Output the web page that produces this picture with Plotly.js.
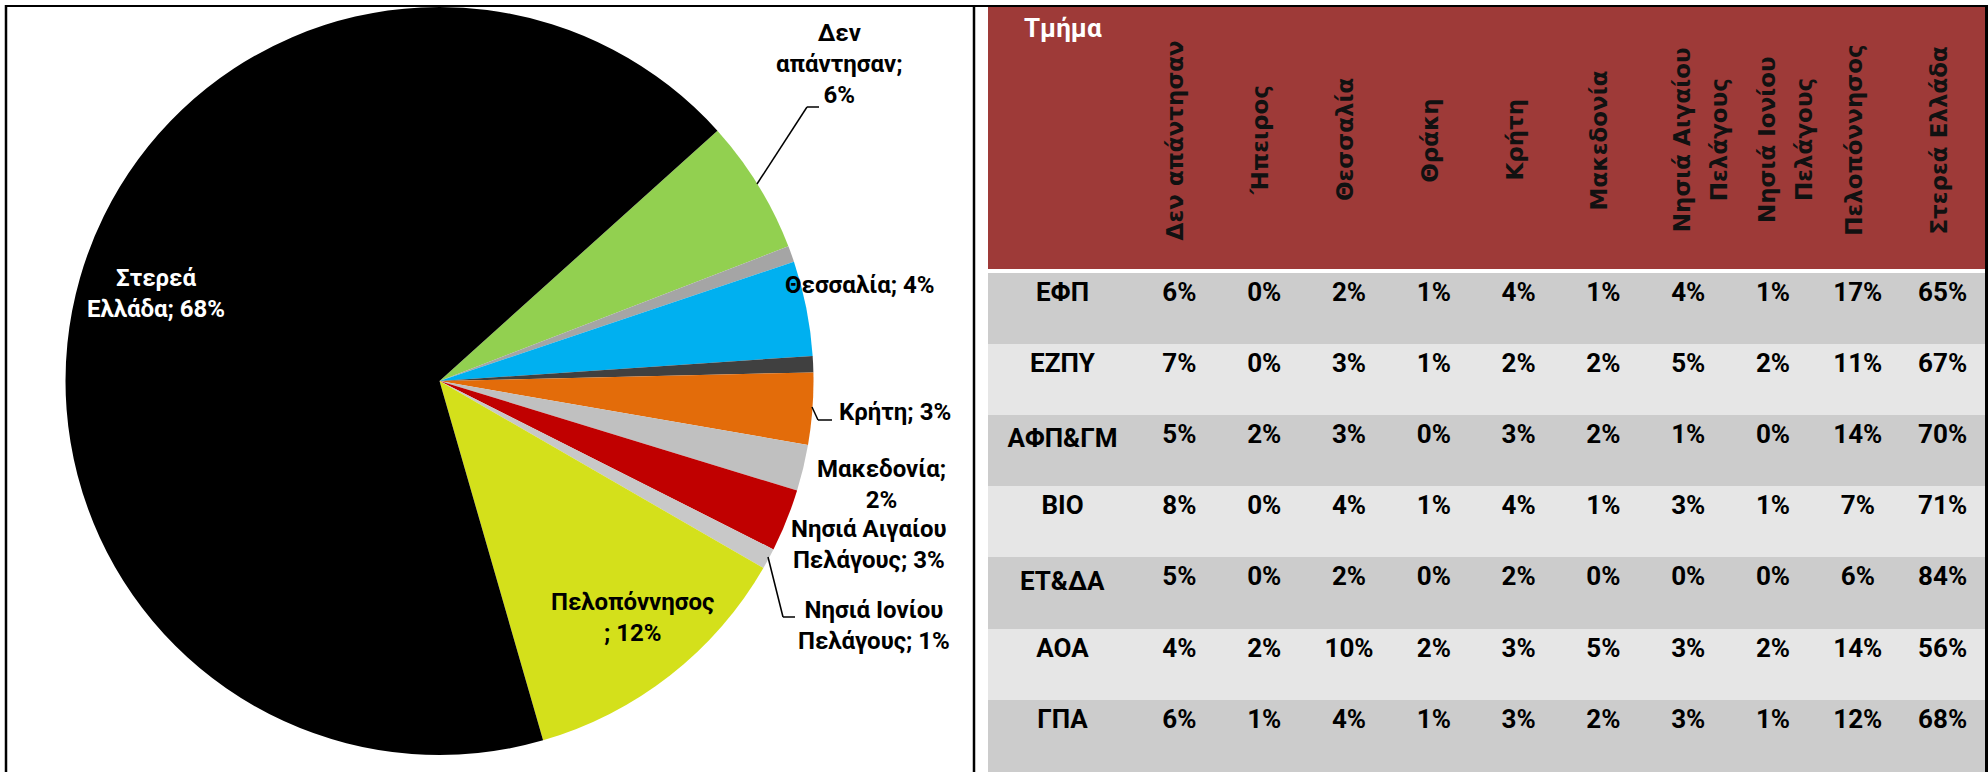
<!DOCTYPE html>
<html><head><meta charset="utf-8">
<script src="https://cdn.plot.ly/plotly-3.0.1.min.js"></script>
<style>html,body{margin:0;padding:0;background:#fff;} #chart{width:1988px;height:772px;}</style>
</head><body><div id="chart"></div>
<script>
// ---------------- DATA ----------------
const regions = ['Δεν απάντησαν', 'Ήπειρος', 'Θεσσαλία', 'Θράκη', 'Κρήτη', 'Μακεδονία',
  'Νησιά Αιγαίου Πελάγους', 'Νησιά Ιονίου Πελάγους', 'Πελοπόννησος', 'Στερεά Ελλάδα'];
const pieValues = [5.8, 0.7, 4.1, 0.7, 3.1, 2.0, 2.7, 0.9, 12.2, 67.8];
const headerLabels = ['Δεν απάντησαν', 'Ήπειρος', 'Θεσσαλία', 'Θράκη', 'Κρήτη', 'Μακεδονία',
  'Νησιά Αιγαίου<br>Πελάγους', 'Νησιά Ιονίου<br>Πελάγους', 'Πελοπόννησος', 'Στερεά Ελλάδα'];
const cornerLabel = 'Τμήμα';
const departments = ['ΕΦΠ', 'ΕΖΠΥ', 'ΑΦΠ&ΓΜ', 'ΒΙΟ', 'ΕΤ&ΔΑ', 'ΑΟΑ', 'ΓΠΑ'];
const rowEFP   = [6, 0, 2, 1, 4, 1, 4, 1, 17, 65];
const rowEZPY  = [7, 0, 3, 1, 2, 2, 5, 2, 11, 67];
const rowAFPGM = [5, 2, 3, 0, 3, 2, 1, 0, 14, 70];
const rowBIO   = [8, 0, 4, 1, 4, 1, 3, 1, 7, 71];
const rowETDA  = [5, 0, 2, 0, 2, 0, 0, 0, 6, 84];
const rowAOA   = [4, 2, 10, 2, 3, 5, 3, 2, 14, 56];
const rowGPA   = [6, 1, 4, 1, 3, 2, 3, 1, 12, 68];
const tableRows = [rowEFP, rowEZPY, rowAFPGM, rowBIO, rowETDA, rowAOA, rowGPA];

// ---------------- STYLE ----------------
const W = 1988, H = 772;
const X = x => x / W, Y = y => 1 - y / H;
const pieColors = ['#92D050', '#A5A5A5', '#00B0F0', '#404040', '#E36C0A', '#C0C0C0',
  '#C00000', '#C8C8C8', '#D4E01B', '#000000'];
const bodyFont = "Roboto, 'Open Sans', sans-serif";
const headFont = "'DejaVu Sans', Verdana, sans-serif";

// pie label wrapping (how each label is broken into lines)
const pieLabelWrap = ['Δεν<br>απάντησαν;<br>', null, 'Θεσσαλία; ', null, 'Κρήτη; ', 'Μακεδονία;<br>',
  'Νησιά Αιγαίου<br>Πελάγους; ', 'Νησιά Ιονίου<br>Πελάγους; ', 'Πελοπόννησος<br>; ', 'Στερεά<br>Ελλάδα; '];
const pieLabelPos = [[839, 64], null, [860, 285], null, [895, 412], [881, 484],
  [869, 544], [874, 625], [632, 617], [156, 293]];
const leaderLines = [
  [[757, 184], [807, 107], [819, 107]],
  [[812, 407], [818, 420], [832, 420]],
  [[768, 557], [783, 617], [795, 617]]
];

const total = pieValues.reduce((a, b) => a + b, 0);
const annotations = [];
pieValues.forEach((v, i) => {
  if (!pieLabelWrap[i]) return;
  annotations.push({
    xref: 'paper', yref: 'paper', x: X(pieLabelPos[i][0]), y: Y(pieLabelPos[i][1]),
    xanchor: 'center', yanchor: 'middle', showarrow: false, align: 'center',
    text: pieLabelWrap[i] + Math.round(v / total * 100) + '%',
    font: {family: bodyFont, size: 24, weight: 'bold', color: i === 9 ? '#FFFFFF' : '#000000'}
  });
});

// table geometry
const tx0 = 988, tx1 = 1985, firstW = 149;
const colW = (tx1 - tx0 - firstW) / regions.length;
headerLabels.forEach((h, j) => {
  const lines = h.split('<br>');
  const shifts = lines.length > 1 ? [-6, 31] : [-4];
  lines.forEach((ln, k) => {
    annotations.push({
      xref: 'paper', yref: 'paper', x: X(tx0 + firstW + (j + 0.5) * colW), y: Y(140),
      xanchor: 'center', yanchor: 'middle', showarrow: false, textangle: -90,
      xshift: shifts[k],
      text: ln, font: {family: headFont, size: 23, weight: 'bold', color: '#111111'}
    });
  });
});
annotations.push({
  xref: 'paper', yref: 'paper', x: X(tx0 + firstW / 2), y: Y(28),
  xanchor: 'center', yanchor: 'middle', showarrow: false,
  text: cornerLabel, font: {family: bodyFont, size: 26, weight: 'bold', color: '#FFFFFF'}
});

const shapes = [];
// header band
shapes.push({type: 'rect', xref: 'paper', yref: 'paper', x0: X(tx0), x1: X(tx1), y0: Y(269), y1: Y(7),
  fillcolor: '#9E3A38', line: {width: 0}, layer: 'below'});
// frame lines
const frame = [[5, 6, 1988, 6, 2], [6, 5, 6, 772, 2.5], [974, 6, 974, 772, 2.5], [1986.5, 6, 1986.5, 772, 3]];
frame.forEach(f => shapes.push({type: 'line', xref: 'paper', yref: 'paper',
  x0: X(f[0]), y0: Y(f[1]), x1: X(f[2]), y1: Y(f[3]), line: {color: '#000', width: f[4]}}));
leaderLines.forEach(pts => {
  for (let k = 0; k < pts.length - 1; k++) {
    shapes.push({type: 'line', xref: 'paper', yref: 'paper',
      x0: X(pts[k][0]), y0: Y(pts[k][1]), x1: X(pts[k + 1][0]), y1: Y(pts[k + 1][1]),
      line: {color: '#000', width: 1.5}});
  }
});

// pie geometry
const cx = 439.5, cy = 381, r = 374;

const pie = {
  type: 'pie', labels: regions, values: pieValues, sort: false, direction: 'clockwise',
  rotation: 48, textinfo: 'none', hoverinfo: 'label+percent',
  marker: {colors: pieColors, line: {width: 0}},
  domain: {x: [X(cx - r), X(cx + r)], y: [Y(cy + r), Y(cy - r)]}
};

const cellColumns = [departments];
regions.forEach((_, j) => cellColumns.push(tableRows.map(row => row[j] + '%')));
const fills = cellColumns.map(col => col.map((_, i) => i % 2 === 0 ? '#CCCCCC' : '#E6E6E6'));
const table = {
  type: 'table',
  domain: {x: [X(tx0), X(tx1)], y: [0, Y(269)]},
  columnwidth: [firstW].concat(regions.map(() => colW)),
  header: {values: cellColumns.map(() => ''), height: 4, line: {width: 0},
    fill: {color: '#FFFFFF'}, font: {size: 1, color: '#FFFFFF'}},
  cells: {values: cellColumns, height: 71.2, align: 'center', line: {color: fills, width: 1},
    fill: {color: fills}, font: {family: bodyFont, size: 26, weight: 'bold', color: '#000000'}}
};

const layout = {
  width: W, height: H, margin: {l: 0, r: 0, t: 0, b: 0},
  paper_bgcolor: '#FFFFFF', showlegend: false,
  annotations: annotations, shapes: shapes
};
Plotly.newPlot('chart', [pie, table], layout, {displayModeBar: false});
</script>
</body></html>
